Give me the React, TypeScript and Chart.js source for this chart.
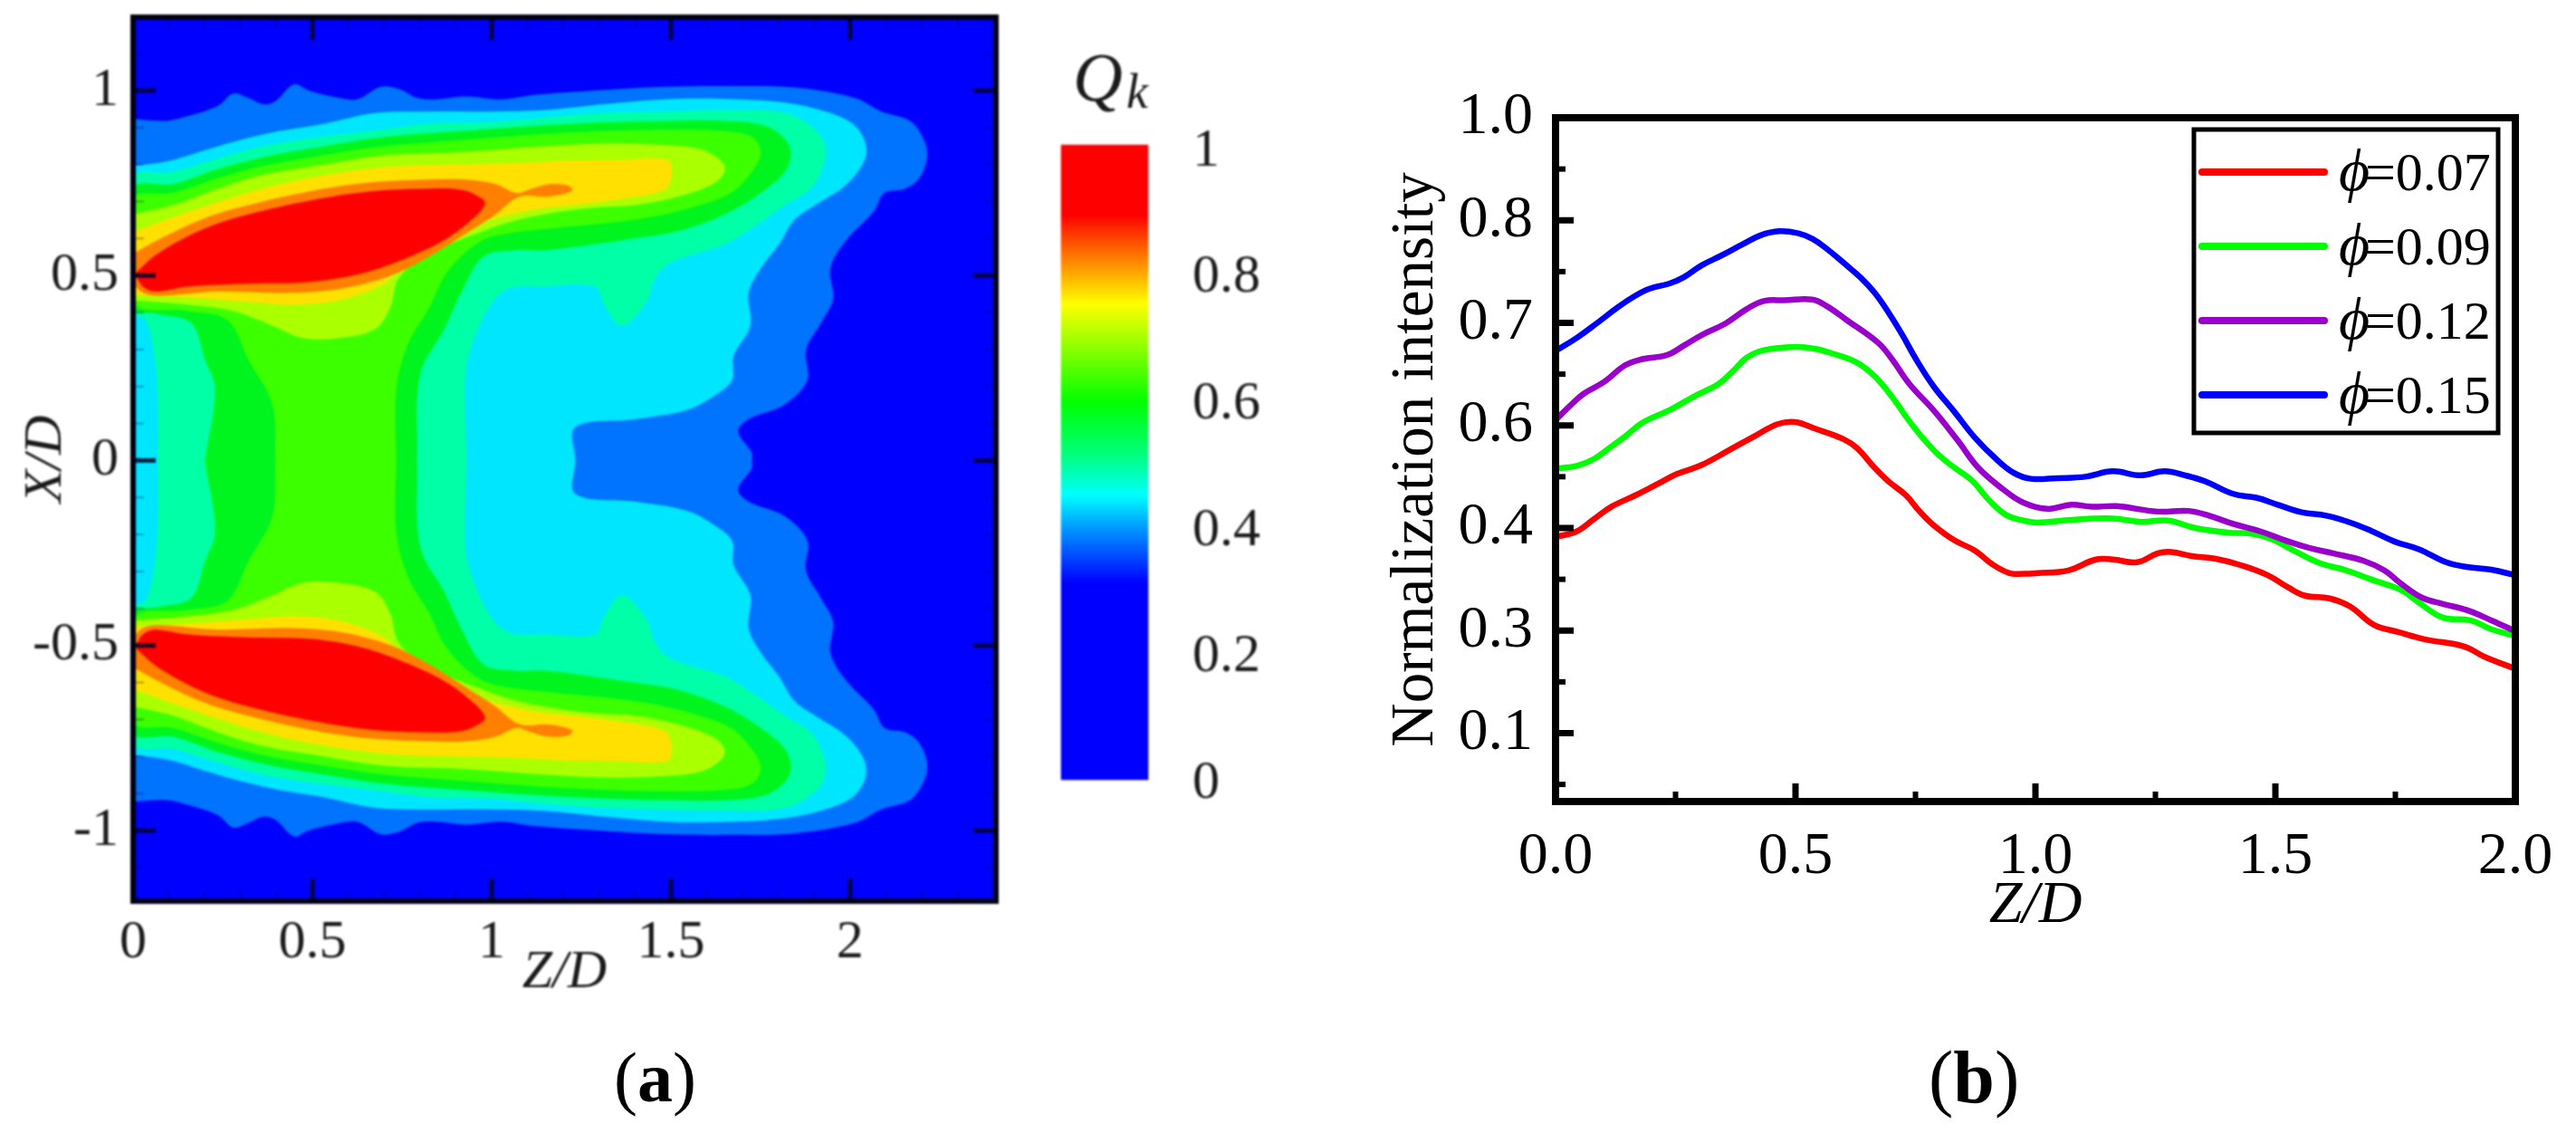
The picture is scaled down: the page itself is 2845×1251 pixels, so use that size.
import React, { useEffect, useRef } from "react";
import { Chart, registerables } from "chart.js";

Chart.register(...registerables);

const SERIF = "'Liberation Serif', 'Times New Roman', serif";
const SOFT_INK = "#1a1a1a";

/* ---------- panel (b): normalization intensity ---------- */
const zRed = [0, .044, .08, .116, .167, .217, .253, .304, .362, .419, .463, .499, .542, .6, .628, .665, .694, .73, .759, .788, .831, .874, .91, .946, .975, 1.004, 1.068, 1.126, 1.161, 1.212, 1.255, 1.283, 1.326, 1.376, 1.426, 1.484, 1.527, 1.562, 1.613, 1.656, 1.706, 1.756, 1.813, 1.892, 1.935, 2];
const qRed = [.387, .395, .413, .431, .448, .466, .479, .492, .514, .536, .552, .555, .545, .53, .517, .488, .468, .448, .424, .404, .382, .367, .347, .334, .333, .334, .338, .354, .354, .35, .363, .365, .359, .355, .346, .331, .313, .301, .297, .285, .258, .248, .237, .227, .212, .194];
const zGreen = [0, .044, .08, .116, .145, .181, .239, .29, .34, .369, .398, .434, .499, .542, .578, .628, .665, .701, .744, .788, .824, .867, .903, .939, .975, 1.004, 1.075, 1.161, 1.219, 1.276, 1.333, 1.405, 1.448, 1.491, 1.541, 1.591, 1.648, 1.699, 1.763, 1.799, 1.849, 1.906, 1.95, 2];
const qGreen = [.487, .491, .501, .519, .534, .554, .573, .593, .611, .629, .649, .66, .665, .662, .655, .642, .622, .592, .55, .514, .492, .47, .441, .419, .411, .408, .412, .414, .409, .411, .4, .393, .392, .384, .366, .349, .338, .325, .309, .291, .269, .265, .252, .242];
const zPurple = [0, .029, .058, .102, .145, .181, .232, .268, .304, .354, .398, .434, .477, .535, .564, .607, .672, .701, .737, .788, .838, .881, .932, .975, 1.025, 1.075, 1.118, 1.169, 1.255, 1.319, 1.362, 1.412, 1.469, 1.52, 1.57, 1.62, 1.684, 1.727, 1.763, 1.806, 1.849, 1.899, 1.95, 2];
const qPurple = [.558, .578, .596, .614, .638, .647, .653, .667, .682, .699, .72, .732, .733, .734, .725, .704, .671, .647, .611, .572, .528, .488, .457, .437, .428, .434, .431, .432, .424, .425, .418, .406, .395, .382, .371, .363, .352, .338, .318, .298, .289, .28, .265, .249];
const zBlue = [0, .044, .087, .13, .167, .196, .239, .268, .304, .347, .39, .427, .466, .506, .535, .564, .6, .636, .665, .694, .723, .751, .788, .831, .874, .918, .954, .99, 1.047, 1.104, 1.161, 1.219, 1.269, 1.312, 1.355, 1.412, 1.462, 1.505, 1.555, 1.606, 1.656, 1.699, 1.749, 1.799, 1.856, 1.899, 1.95, 2];
const qBlue = [.659, .678, .7, .723, .74, .75, .758, .767, .784, .799, .815, .828, .834, .831, .823, .809, .788, .766, .744, .715, .682, .647, .607, .57, .532, .501, .481, .472, .473, .475, .483, .477, .483, .477, .468, .45, .444, .434, .423, .418, .408, .396, .38, .369, .35, .343, .339, .331];

const phiLabels = ["ϕ=0.07", "ϕ=0.09", "ϕ=0.12", "ϕ=0.15"];
const lineColors = ["#ff0000", "#00ff00", "#9900cc", "#0000ff"];
const bYTicks = [1, .85, .7, .55, .4, .25, .1];
const bYLabels = ["1.0", "0.8", "0.7", "0.6", "0.4", "0.3", "0.1"];
const bYMinor = [.925, .775, .625, .475, .325, .175, .025];
const bXTicks = [0, .5, 1, 1.5, 2];
const bXLabels = ["0.0", "0.5", "1.0", "1.5", "2.0"];
const bXMinor = [.25, .75, 1.25, 1.75];

/* ---------- panel (a): contour levels, upper half, as [Z/D, X/D] ---------- */
type P = [number, number];
const level1: P[] = [[0, .9225], [.094, .918], [.153, .931], [.237, .959], [.279, .992], [.321, .98], [.363, .963], [.397, .971], [.448, 1.016], [.49, 1], [.557, .984], [.624, .976], [.691, 1.01], [.742, 1.004], [.792, .98], [.843, .976], [.927, .984], [1.028, .976], [1.12, .988], [1.356, 1.004], [1.482, 1.01], [1.65, 1.012], [1.844, 1.008], [2.012, .98], [2.088, .943], [2.167, .918], [2.205, .869], [2.215, .82], [2.193, .763], [2.155, .735], [2.096, .723], [2.067, .674], [1.987, .592], [1.945, .519], [1.953, .437], [1.919, .372], [1.877, .298], [1.881, .217], [1.818, .151], [1.717, .111], [1.688, .078], [1.726, .021], [1.726, 0]];
const level2: P[] = [[0, .796], [.094, .808], [.195, .837], [.279, .861], [.406, .89], [.532, .91], [.675, .939], [.826, .943], [.994, .943], [1.146, .947], [1.314, .963], [1.482, .976], [1.65, .977], [1.818, .967], [1.945, .939], [2.012, .906], [2.044, .853], [2.037, .804], [1.987, .743], [1.903, .69], [1.844, .649], [1.802, .584], [1.751, .519], [1.717, .453], [1.722, .364], [1.675, .282], [1.671, .217], [1.617, .172], [1.541, .135], [1.398, .111], [1.234, .09], [1.234, 0]];
const level3: P[] = [[.069, 0], [.069, .151], [.061, .274], [.035, .38], [0, .396], [0, .763], [.111, .78], [.237, .816], [.363, .849], [.49, .87], [.658, .89], [.826, .91], [.994, .914], [1.146, .927], [1.314, .939], [1.482, .943], [1.65, .947], [1.818, .939], [1.903, .894], [1.932, .845], [1.919, .78], [1.886, .731], [1.818, .69], [1.734, .633], [1.65, .584], [1.499, .535], [1.457, .494], [1.432, .429], [1.364, .364], [1.314, .421], [1.289, .47], [1.146, .47], [1.053, .466], [1.003, .429], [.952, .331], [.927, .233], [.931, 0]];
const level4: P[] = [[.2, 0], [.229, .192], [.2, .274], [.162, .372], [.069, .396], [0, .413], [0, .735], [.111, .747], [.237, .788], [.363, .82], [.532, .849], [.7, .874], [.91, .89], [1.146, .906], [1.314, .914], [1.482, .918], [1.65, .918], [1.759, .906], [1.818, .869], [1.835, .829], [1.818, .78], [1.751, .723], [1.65, .665], [1.524, .621], [1.398, .6], [1.255, .58], [1.146, .568], [1.062, .568], [.977, .551], [.919, .461], [.868, .355], [.801, .233], [.792, 0]];
const level5: P[] = [[.397, 0], [.389, .151], [.321, .274], [.263, .38], [.153, .404], [0, .429], [0, .706], [.111, .723], [.237, .763], [.363, .796], [.532, .825], [.7, .849], [.91, .865], [1.146, .882], [1.314, .89], [1.482, .894], [1.65, .89], [1.726, .874], [1.751, .833], [1.726, .78], [1.667, .723], [1.566, .686], [1.44, .657], [1.314, .641], [1.146, .625], [1.062, .616], [.969, .592], [.877, .51], [.826, .413], [.767, .315], [.734, .192], [.734, 0]];
const level6: P[] = [[0, .665], [.111, .69], [.237, .735], [.363, .772], [.532, .8], [.7, .825], [.91, .833], [1.146, .849], [1.314, .857], [1.482, .853], [1.583, .841], [1.642, .808], [1.65, .78], [1.617, .747], [1.524, .714], [1.398, .69], [1.272, .682], [1.146, .665], [1.053, .645], [.969, .617], [.826, .559], [.742, .494], [.717, .413], [.675, .355], [.574, .331], [.473, .331], [.389, .364], [.279, .404], [.153, .421], [0, .433]];
const level7: P[] = [[0, .617], [.111, .657], [.237, .698], [.363, .735], [.49, .763], [.7, .792], [.91, .8], [1.078, .804], [1.23, .811], [1.356, .812], [1.49, .812], [1.503, .772], [1.482, .731], [1.356, .706], [1.23, .69], [1.146, .682], [1.053, .665], [.969, .641], [.843, .584], [.742, .519], [.7, .478], [.574, .433], [.448, .421], [.321, .429], [.153, .441], [0, .449]];
const level8: P[] = [[0, .559], [.069, .596], [.195, .653], [.321, .69], [.49, .727], [.658, .751], [.826, .759], [.927, .759], [1.011, .747], [1.07, .723], [1.112, .735], [1.162, .747], [1.213, .743], [1.226, .731], [1.196, .719], [1.146, .713], [1.095, .716], [1.062, .706], [1.011, .665], [.935, .617], [.826, .551], [.725, .502], [.591, .466], [.448, .453], [.237, .457], [.069, .445], [.027, .453], [0, .478]];
const level9: P[] = [[.01, .51], [.069, .559], [.195, .625], [.321, .665], [.49, .702], [.658, .727], [.826, .735], [.919, .731], [.969, .71], [.982, .694], [.952, .657], [.868, .596], [.742, .539], [.624, .502], [.49, .482], [.321, .478], [.153, .47], [.061, .457], [.027, .47], [.01, .494]];

const throughAxis = [level1, level2, level3, level4, level5];
const blobs = [level6, level7, level8, level9];
const levelColors = ["#0073ff", "#00e6ff", "#00ffa6", "#00f51e", "#3cff00", "#aaff00", "#ffe000", "#ff7f00", "#ff0000"];

const aXTicks = [0, .5, 1, 1.5, 2];
const aXLabels = ["0", "0.5", "1", "1.5", "2"];
const aXMinor = [.1, .2, .3, .4, .6, .7, .8, .9, 1.1, 1.2, 1.3, 1.4, 1.6, 1.7, 1.8, 1.9, 2.1, 2.2, 2.3];
const aYTicks = [1, .5, 0, -.5, -1];
const aYLabels = ["1", "0.5", "0", "-0.5", "-1"];
const aYMinor = [1.1, .9, .8, .7, .6, .4, .3, .2, .1, -.1, -.2, -.3, -.4, -.6, -.7, -.8, -.9, -1.1];

/* ---------- colour bar ---------- */
const barTicks = [1, .8, .6, .4, .2, 0];
const barLabels = ["1", "0.8", "0.6", "0.4", "0.2", "0"];
const barStops: [number, string][] = [[0, "#ff0000"], [.11, "#ff0000"], [.18, "#ff8000"], [.25, "#ffff00"], [.405, "#00ff00"], [.49, "#00ff80"], [.552, "#00ffff"], [.6, "#00a0ff"], [.69, "#0000ff"], [1, "#0000ff"]];

const pts = (zs: number[], qs: number[]) => zs.map((x, i) => ({ x, y: qs[i] }));
const toXY = (p: P[]) => p.map(([x, y]) => ({ x, y }));
const mirrorY = (p: P[]): P[] => p.map(([x, y]) => [x, -y] as P);
const mirrorClosed = (p: P[]): P[] => [...p, ...mirrorY(p).reverse()];

type FrameCfg = {
  bg?: string; frameColor: string; frameWidth: number; majorLen: number; minorLen: number;
  majorWidth: number; minorWidth: number; majorColor: string; minorColor: string; mirror: boolean;
  xMajor: number[]; xMinor: number[]; yMajor: number[]; yMinor: number[];
};

function framePlugin(c: FrameCfg) {
  return {
    id: "frame",
    beforeDatasetsDraw(chart: any) {
      if (!c.bg) return;
      const { left, right, top, bottom } = chart.chartArea;
      chart.ctx.fillStyle = c.bg;
      chart.ctx.fillRect(left, top, right - left, bottom - top);
    },
    afterDraw(chart: any) {
      const { ctx, chartArea: a, scales } = chart;
      const seg = (x1: number, y1: number, x2: number, y2: number) => {
        ctx.beginPath(); ctx.moveTo(x1, y1); ctx.lineTo(x2, y2); ctx.stroke();
      };
      const draw = (xs: number[], ys: number[], len: number, w: number, col: string) => {
        ctx.strokeStyle = col; ctx.lineWidth = w;
        xs.forEach((v) => {
          const p = scales.x.getPixelForValue(v);
          seg(p, a.bottom, p, a.bottom - len);
          if (c.mirror) seg(p, a.top, p, a.top + len);
        });
        ys.forEach((v) => {
          const p = scales.y.getPixelForValue(v);
          seg(a.left, p, a.left + len, p);
          if (c.mirror) seg(a.right, p, a.right - len, p);
        });
      };
      ctx.save();
      draw(c.xMinor, c.yMinor, c.minorLen, c.minorWidth, c.minorColor);
      draw(c.xMajor, c.yMajor, c.majorLen, c.majorWidth, c.majorColor);
      ctx.strokeStyle = c.frameColor; ctx.lineWidth = c.frameWidth; ctx.lineJoin = "miter";
      ctx.strokeRect(a.left, a.top, a.right - a.left, a.bottom - a.top);
      ctx.restore();
    },
  };
}

const phiLegend = {
  id: "phiLegend",
  afterDraw(chart: any) {
    const { ctx, chartArea: a } = chart;
    const left = a.right - 355, right = a.right - 19, top = a.top + 13, bottom = a.top + 348;
    ctx.save();
    ctx.fillStyle = "#fff";
    ctx.fillRect(left, top, right - left, bottom - top);
    ctx.strokeStyle = "#000"; ctx.lineWidth = 5;
    ctx.strokeRect(left, top, right - left, bottom - top);
    chart.data.datasets.forEach((d: any, i: number) => {
      const y = a.top + 60 + i * 82;
      ctx.strokeStyle = d.borderColor; ctx.lineWidth = 8; ctx.lineCap = "round";
      ctx.beginPath(); ctx.moveTo(left + 9, y); ctx.lineTo(left + 144, y); ctx.stroke();
      ctx.fillStyle = "#000"; ctx.textBaseline = "alphabetic"; ctx.textAlign = "left";
      ctx.font = `italic 66px ${SERIF}`;
      ctx.fillText(d.label.slice(0, 1), left + 160, y + 20);
      ctx.font = `60px ${SERIF}`;
      ctx.fillText(d.label.slice(1), left + 189, y + 20);
    });
    ctx.restore();
  },
};

function useChart(ref: React.RefObject<HTMLCanvasElement | null>, build: (c: HTMLCanvasElement) => Chart) {
  useEffect(() => {
    if (!ref.current) return;
    const chart = build(ref.current);
    return () => chart.destroy();
  }, []);
}

const fixed = (prop: "width" | "height", n: number) => (s: any) => {
  s[prop] = n;
  s.paddingTop = 0; s.paddingBottom = 0; s.paddingLeft = 0; s.paddingRight = 0;
};
const setTicks = (vals: number[]) => (s: any) => { s.ticks = vals.map((value) => ({ value })); };

export default function App() {
  const aRef = useRef<HTMLCanvasElement>(null);
  const bRef = useRef<HTMLCanvasElement>(null);
  const cRef = useRef<HTMLCanvasElement>(null);

  useChart(aRef, (canvas) => {
    const contourSets: any[] = [];
    const add = (poly: P[], order: number, color: string) =>
      contourSets.push({
        data: toXY(poly), order, showLine: true, fill: "shape", backgroundColor: color,
        borderColor: "transparent", borderWidth: 0, pointRadius: 0, tension: 0.35,
      });
    throughAxis.forEach((l, i) => add(mirrorClosed(l), 20 - i, levelColors[i]));
    blobs.forEach((l, i) => {
      add(l, 15 - i, levelColors[i + 5]);
      add(mirrorY(l), 15 - i, levelColors[i + 5]);
    });
    const font = { family: SERIF, size: 60 };
    return new Chart(canvas, {
      type: "scatter",
      data: { datasets: contourSets },
      plugins: [framePlugin({
        bg: "#0000ff", frameColor: "#000014", frameWidth: 6, majorLen: 25, minorLen: 12,
        majorWidth: 5, minorWidth: 2, majorColor: "rgba(0,0,40,0.85)", minorColor: "rgba(0,0,60,0.3)", mirror: true,
        xMajor: aXTicks, xMinor: aXMinor, yMajor: aYTicks, yMinor: aYMinor,
      })],
      options: {
        animation: false, responsive: false,
        layout: { padding: { left: 0, top: 19, right: 30, bottom: 0 } },
        plugins: { legend: { display: false }, tooltip: { enabled: false } },
        scales: {
          x: {
            type: "linear", min: 0, max: 2.407, afterFit: fixed("height", 256), afterBuildTicks: setTicks(aXTicks),
            grid: { display: false, drawTicks: false }, border: { display: false },
            ticks: { font, color: SOFT_INK, padding: 10, maxRotation: 0, autoSkip: false, callback: (_v: any, i: number) => aXLabels[i] },
            title: { display: true, text: "Z/D", color: SOFT_INK, font: { ...font, style: "italic" }, padding: { top: 0, bottom: 141 } },
          },
          y: {
            type: "linear", min: -1.191, max: 1.198, afterFit: fixed("width", 147), afterBuildTicks: setTicks(aYTicks),
            grid: { display: false, drawTicks: false }, border: { display: false },
            ticks: { font, color: SOFT_INK, padding: 16, autoSkip: false, callback: (_v: any, i: number) => aYLabels[i] },
            title: { display: true, text: "X/D", color: SOFT_INK, font: { ...font, style: "italic" }, padding: { top: 15, bottom: 0 } },
          },
        },
      },
    } as any);
  });

  useChart(cRef, (canvas) =>
    new Chart(canvas, {
      type: "bar",
      data: {
        labels: ["Qk"],
        datasets: [{
          data: [[0.006, 1.01]], barPercentage: 1, categoryPercentage: 1, clip: false,
          backgroundColor: (ctx: any) => {
            const { chart } = ctx;
            if (!chart.chartArea) return "#0000ff";
            const y = chart.scales.y;
            const g = chart.ctx.createLinearGradient(0, y.getPixelForValue(1.01), 0, y.getPixelForValue(0.006));
            barStops.forEach(([o, c]) => g.addColorStop(o, c));
            return g;
          },
        }],
      } as any,
      options: {
        animation: false, responsive: false,
        layout: { padding: { left: 32, top: 67, right: 0, bottom: 35 } },
        plugins: { legend: { display: false }, tooltip: { enabled: false } },
        scales: {
          x: { display: false },
          y: {
            type: "linear", position: "right", min: 0, max: 1, afterFit: fixed("width", 132), afterBuildTicks: setTicks(barTicks),
            grid: { display: false, drawTicks: false }, border: { display: false },
            ticks: { font: { family: SERIF, size: 60 }, color: SOFT_INK, padding: 49, autoSkip: false, callback: (_v: any, i: number) => barLabels[i] },
          },
        },
      },
    } as any)
  );

  useChart(bRef, (canvas) => {
    const series = [pts(zRed, qRed), pts(zGreen, qGreen), pts(zPurple, qPurple), pts(zBlue, qBlue)];
    const font = { family: SERIF, size: 66 };
    return new Chart(canvas, {
      type: "scatter",
      data: {
        datasets: series.map((data, i) => ({
          label: phiLabels[i], data, order: 4 - i, showLine: true, borderColor: lineColors[i], backgroundColor: lineColors[i],
          borderWidth: 6.5, pointRadius: 0, tension: 0.4, fill: false, borderCapStyle: "round",
        })),
      },
      plugins: [framePlugin({
        frameColor: "#000", frameWidth: 8, majorLen: 20, minorLen: 11,
        majorWidth: 7, minorWidth: 6, majorColor: "#000", minorColor: "#000", mirror: false,
        xMajor: bXTicks, xMinor: bXMinor, yMajor: bYTicks, yMinor: bYMinor,
      }), phiLegend],
      options: {
        animation: false, responsive: false,
        layout: { padding: { left: 0, top: 130, right: 67, bottom: 0 } },
        plugins: { legend: { display: false }, tooltip: { enabled: false } },
        scales: {
          x: {
            type: "linear", min: 0, max: 2, afterFit: fixed("height", 366), afterBuildTicks: setTicks(bXTicks),
            grid: { display: false, drawTicks: false }, border: { display: false },
            ticks: { font, color: "#000", padding: 22, maxRotation: 0, autoSkip: false, callback: (_v: any, i: number) => bXLabels[i] },
            title: { display: true, text: "Z/D", color: "#000", font: { ...font, style: "italic" }, padding: { top: 0, bottom: 211 } },
          },
          y: {
            type: "linear", min: 0, max: 1, afterFit: fixed("width", 318), afterBuildTicks: setTicks(bYTicks),
            grid: { display: false, drawTicks: false }, border: { display: false },
            ticks: { font, color: "#000", padding: 25, autoSkip: false, callback: (_v: any, i: number) => bYLabels[i] },
            title: { display: true, text: "Normalization intensity", color: "#000", font: { ...font, size: 67 }, padding: { top: 124, bottom: 0 } },
          },
        },
      },
    } as any);
  });

  const abs = (left: number, top: number): React.CSSProperties => ({ position: "absolute", left, top });
  const caption: React.CSSProperties = { position: "absolute", fontFamily: SERIF, lineHeight: "76px", color: "#000", whiteSpace: "nowrap" };

  return (
    <div style={{ position: "absolute", left: 0, top: 0, width: 2845, height: 1251, overflow: "hidden", background: "#fff" }}>
      <canvas ref={aRef} width={1130} height={1251} style={{ ...abs(0, 0), filter: "blur(1.2px)" }} />
      <canvas ref={cRef} width={260} height={800} style={{ ...abs(1140, 100), filter: "blur(1.2px)" }} />
      <canvas ref={bRef} width={1445} height={1251} style={abs(1400, 0)} />
      <div style={{ ...abs(1185, 45), fontFamily: SERIF, fontStyle: "italic", color: SOFT_INK, fontSize: 76, lineHeight: "80px", filter: "blur(1px)", whiteSpace: "nowrap" }}>
        Q<span style={{ fontSize: 54, marginLeft: 4, position: "relative", top: 8 }}>k</span>
      </div>
      <div style={{ ...caption, fontSize: 78, left: 678, top: 1152 }}>(<b>a</b>)</div>
      <div style={{ ...caption, fontSize: 82, left: 2130, top: 1152 }}>(<b>b</b>)</div>
    </div>
  );
}
